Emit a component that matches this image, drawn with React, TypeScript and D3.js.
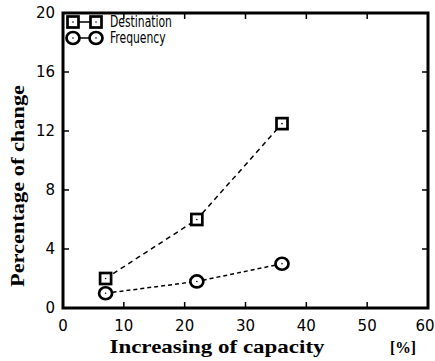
import React from "react";
import * as d3 from "d3";

const capacity = [7, 22, 36];
const destination = [2, 6, 12.5];
const frequency = [1, 1.8, 3];
const xTicks = [0, 10, 20, 30, 40, 50, 60];
const yTicks = [0, 4, 8, 12, 16, 20];
const seriesNames = ["Destination", "Frequency"];

export default function App() {
  const W = 435, H = 361;
  const x = d3.scaleLinear().domain([0, 60]).range([63, 428]);
  const y = d3.scaleLinear().domain([0, 20]).range([308, 13]);
  const line = d3.line<[number, number]>().x(d => x(d[0])).y(d => y(d[1]));
  const dPts = capacity.map((c, i) => [c, destination[i]] as [number, number]);
  const fPts = capacity.map((c, i) => [c, frequency[i]] as [number, number]);
  const tickFont = "'DejaVu Sans', sans-serif";
  const Square = ({ cx, cy }: { cx: number; cy: number }) => (
    <g>
      <rect x={cx - 5.5} y={cy - 5.5} width={11} height={11} fill="white" stroke="black" strokeWidth={2.7} />
      <circle cx={cx} cy={cy} r={0.8} fill="black" />
    </g>
  );
  const Circ = ({ cx, cy }: { cx: number; cy: number }) => (
    <g>
      <ellipse cx={cx} cy={cy} rx={6.5} ry={6} fill="white" stroke="black" strokeWidth={2.7} />
      <circle cx={cx} cy={cy} r={0.8} fill="black" />
    </g>
  );
  return (
    <svg width={W} height={H} style={{ position: "absolute", left: 0, top: 0, background: "white" }}>
      <rect width={W} height={H} fill="white" />
      <path d={line(dPts) || ""} fill="none" stroke="black" strokeWidth={1.5} strokeDasharray="5,4" />
      <path d={line(fPts) || ""} fill="none" stroke="black" strokeWidth={1.5} strokeDasharray="4,3" />
      {dPts.map((p, i) => <Square key={"d" + i} cx={x(p[0])} cy={y(p[1])} />)}
      {fPts.map((p, i) => <Circ key={"f" + i} cx={x(p[0])} cy={y(p[1])} />)}
      <rect x={x(0)} y={y(20)} width={x(60) - x(0)} height={y(0) - y(20)} fill="none" stroke="black" strokeWidth={3} />
      {xTicks.slice(1, -1).map(t => (
        <g key={"xt" + t}>
          <line x1={x(t)} x2={x(t)} y1={y(0)} y2={y(0) - 6} stroke="black" strokeWidth={1.5} />
          <line x1={x(t)} x2={x(t)} y1={y(20)} y2={y(20) + 6} stroke="black" strokeWidth={1.5} />
        </g>
      ))}
      {yTicks.slice(1, -1).map(t => (
        <g key={"yt" + t}>
          <line x1={x(0)} x2={x(0) + 6} y1={y(t)} y2={y(t)} stroke="black" strokeWidth={1.5} />
          <line x1={x(60)} x2={x(60) - 6} y1={y(t)} y2={y(t)} stroke="black" strokeWidth={1.5} />
        </g>
      ))}
      {xTicks.map(t => (
        <text key={"xl" + t} x={t === 60 ? 425 : x(t)} y={331} textAnchor="middle" fontFamily={tickFont} fontSize={15}>{t}</text>
      ))}
      {yTicks.map(t => (
        <text key={"yl" + t} x={55} y={y(t) + 5} textAnchor="end" fontFamily={tickFont} fontSize={15}>{t}</text>
      ))}
      <text x={217} y={353} textAnchor="middle" fontFamily="'Liberation Serif', serif" fontWeight="bold" fontSize={19} textLength={215} lengthAdjust="spacingAndGlyphs">Increasing of capacity</text>
      <text x={403} y={353} textAnchor="middle" fontFamily="'Liberation Serif', serif" fontWeight="bold" fontSize={17} textLength={26} lengthAdjust="spacingAndGlyphs">[%]</text>
      <text transform="translate(24,186) rotate(-90)" textAnchor="middle" fontFamily="'Liberation Serif', serif" fontWeight="bold" fontSize={19} textLength={202} lengthAdjust="spacingAndGlyphs">Percentage of change</text>
      {seriesNames.map((n, i) => {
        const ly = 22 + i * 16;
        return (
          <g key={"lg" + i}>
            <line x1={73} x2={96} y1={ly} y2={ly} stroke="black" strokeWidth={1.5} />
            {i === 0 ? <><Square cx={73} cy={ly} /><Square cx={96} cy={ly} /></> : <><Circ cx={73} cy={ly} /><Circ cx={96} cy={ly} /></>}
            <text x={110} y={ly + 5} fontFamily="'DejaVu Sans Condensed', 'DejaVu Sans', sans-serif" fontSize={15} transform={`translate(${110 * 0.2},0) scale(0.8,1)`}>{n}</text>
          </g>
        );
      })}
    </svg>
  );
}
